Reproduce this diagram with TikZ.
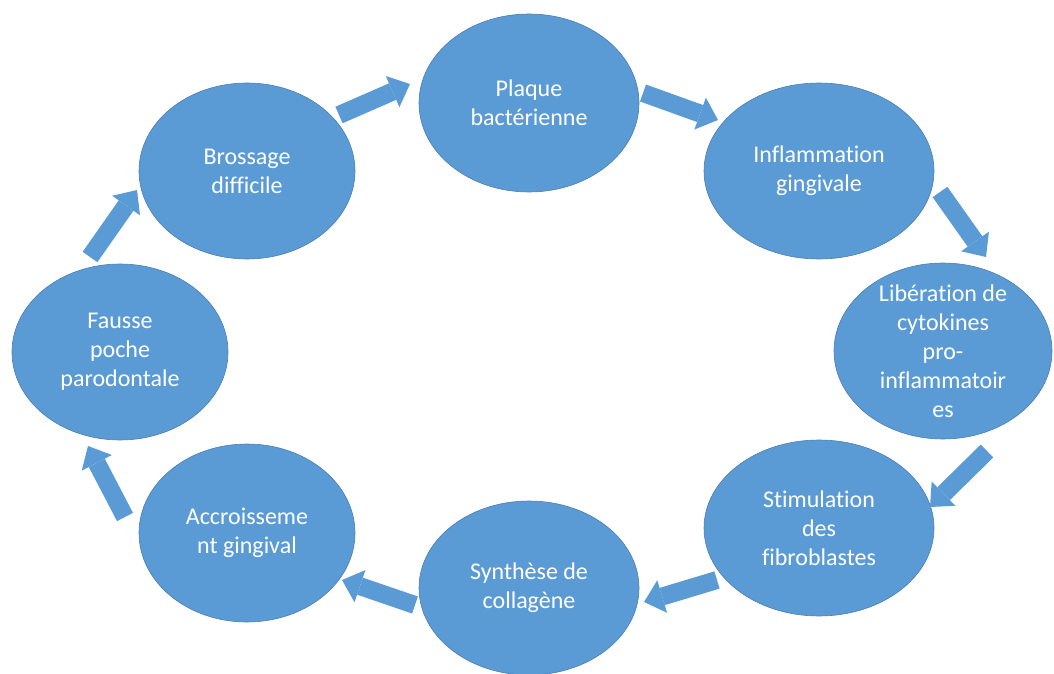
\documentclass[tikz,border=0pt]{standalone}
\usepackage{fontspec}
\setmainfont{Carlito}[Ligatures=NoCommon]
\usetikzlibrary{arrows.meta,shapes.geometric}
\definecolor{blu}{HTML}{5B9BD5}
\definecolor{edgeblu}{HTML}{4A7EB0}
\begin{document}
\begin{tikzpicture}[x=1pt,y=-1pt,
  bub/.style={ellipse, fill=blu, draw=edgeblu, line width=0.6pt, inner sep=0pt},
  lbl/.style={text=white, align=center, inner sep=0pt, font=\fontsize{24}{29}\selectfont},
  flow/.style={draw=blu, line width=18pt, -{Triangle[length=19pt,width=34pt,line width=0pt]}}]
\useasboundingbox (0,0) rectangle (1054,674);
\node[bub, minimum width=220pt, minimum height=178pt, label={[lbl]center:{Plaque\\bactérienne}}] (plaque) at (529,103) {};
\node[bub, minimum width=216pt, minimum height=176pt, label={[lbl]center:{Brossage\\difficile}}] (bross) at (247,171) {};
\node[bub, minimum width=230pt, minimum height=176pt, label={[lbl]center:{Inflammation\\gingivale}}] (infl) at (819,171) {};
\node[bub, minimum width=218pt, minimum height=176pt, label={[lbl]center:{Libération de\\cytokines\\pro-\\inflammatoir\\es}}] (lib) at (943,351) {};
\node[bub, minimum width=230pt, minimum height=176pt, label={[lbl]center:{Stimulation\\des\\fibroblastes}}] (stim) at (819,528) {};
\node[bub, minimum width=220pt, minimum height=174pt, label={[lbl]center:{Synthèse de\\collagène}}] (synth) at (529,588) {};
\node[bub, minimum width=216pt, minimum height=178pt, label={[lbl]center:{Accroisseme\\nt gingival}}] (accr) at (247,533) {};
\node[bub, minimum width=216pt, minimum height=176pt, label={[lbl]center:{Fausse\\poche\\parodontale}}] (fausse) at (120,352) {};
\coordinate (t1) at (339,115); \coordinate (h1) at (410,84);
\coordinate (t2) at (643,93);  \coordinate (h2) at (718,120);
\coordinate (t3) at (940,192); \coordinate (h3) at (986,257);
\coordinate (t4) at (987,451); \coordinate (h4) at (930,507);
\coordinate (t5) at (717,580); \coordinate (h5) at (644,602);
\coordinate (t6) at (415,605); \coordinate (h6) at (342,580);
\coordinate (t7) at (125,517); \coordinate (h7) at (88,446);
\coordinate (t8) at (90,257);  \coordinate (h8) at (137,190);
\foreach \i in {1,...,8} {\draw[flow] (t\i) -- (h\i);}
\end{tikzpicture}
\end{document}
